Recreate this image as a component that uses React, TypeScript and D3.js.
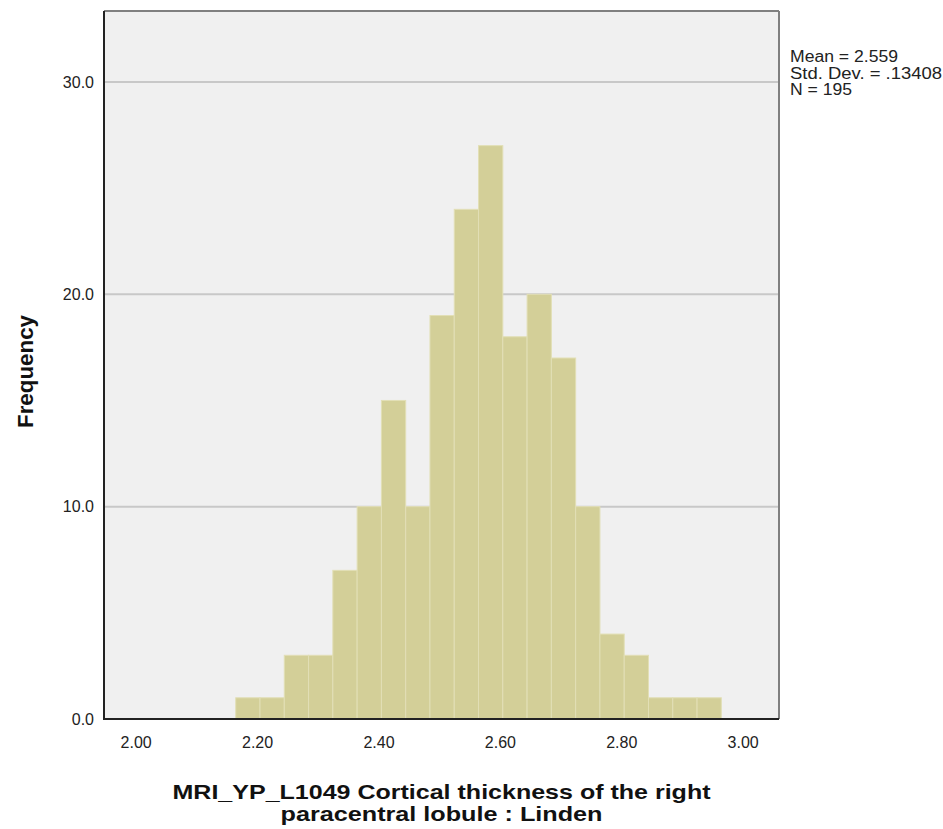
import React from "react";
import * as d3 from "d3";

const binStart = 2.164;
const binWidth = 0.04;
const counts = [1, 1, 3, 3, 7, 10, 15, 10, 19, 24, 27, 18, 20, 17, 10, 4, 3, 1, 1, 1];
const xTicks = [2.0, 2.2, 2.4, 2.6, 2.8, 3.0];
const yTicks = [0, 10, 20, 30];
const statsLines = ["Mean = 2.559", "Std. Dev. = .13408", "N = 195"];
const statsWidths = [108, 152, 62];
const xTitleLines = ["MRI_YP_L1049 Cortical thickness of the right", "paracentral lobule : Linden"];
const xTitleWidths = [538, 322];
const yTitle = "Frequency";

const W = 943, H = 829;
const left = 104, right = 779, top = 11, bottom = 719;
const font = "Arial, 'Liberation Sans', sans-serif";

export default function App() {
  const x = d3.scaleLinear().domain([1.947, 3.059]).range([left, right]);
  const y = d3.scaleLinear().domain([0, 33.34]).range([bottom, top]);
  const bins = counts.map((c, i) => ({ x0: binStart + i * binWidth, x1: binStart + (i + 1) * binWidth, c }));
  return (
    <svg width={W} height={H} style={{ position: "absolute", left: 0, top: 0, background: "#fff" }}>
      <rect x={left} y={top} width={right - left} height={bottom - top} fill="#f0f0f0" />
      {yTicks.filter(t => t > 0).map(t => (
        <line key={t} x1={left} x2={right} y1={y(t)} y2={y(t)} stroke="#c8c8c8" strokeWidth={2} />
      ))}
      {bins.map((b, i) => (
        <rect key={i} x={x(b.x0)} y={y(b.c)} width={x(b.x1) - x(b.x0)} height={y(0) - y(b.c)}
          fill="#d3cf98" stroke="#e2dfb6" strokeWidth={1} />
      ))}
      <line x1={left} x2={right} y1={top} y2={top} stroke="#808080" strokeWidth={2} />
      <line x1={right} x2={right} y1={top} y2={bottom} stroke="#808080" strokeWidth={2} />
      <line x1={left} x2={left} y1={top} y2={bottom + 1} stroke="#222" strokeWidth={2} />
      <line x1={left} x2={right} y1={bottom} y2={bottom} stroke="#222" strokeWidth={2} />
      {yTicks.map(t => (
        <text key={t} x={94} y={y(t)} dy="0.36em" textAnchor="end" fontFamily={font} fontSize={16} fill="#222">
          {t.toFixed(1)}
        </text>
      ))}
      {xTicks.map(t => (
        <text key={t} x={x(t)} y={748} textAnchor="middle" fontFamily={font} fontSize={16} fill="#222">
          {t.toFixed(2)}
        </text>
      ))}
      {statsLines.map((s, i) => (
        <text key={i} x={790} y={62 + i * 16.5} fontFamily={font} fontSize={16} fill="#222"
          textLength={statsWidths[i]} lengthAdjust="spacingAndGlyphs">{s}</text>
      ))}
      {xTitleLines.map((s, i) => (
        <text key={i} x={(left + right) / 2} y={799 + i * 21.5} textAnchor="middle" fontFamily={font}
          fontSize={21} fontWeight="bold" fill="#111"
          textLength={xTitleWidths[i]} lengthAdjust="spacingAndGlyphs">{s}</text>
      ))}
      <text transform={`translate(33,371.5) rotate(-90)`} textAnchor="middle"
        fontFamily={font} fontSize={22} fontWeight="bold" fill="#111"
        textLength={113} lengthAdjust="spacingAndGlyphs">{yTitle}</text>
    </svg>
  );
}
